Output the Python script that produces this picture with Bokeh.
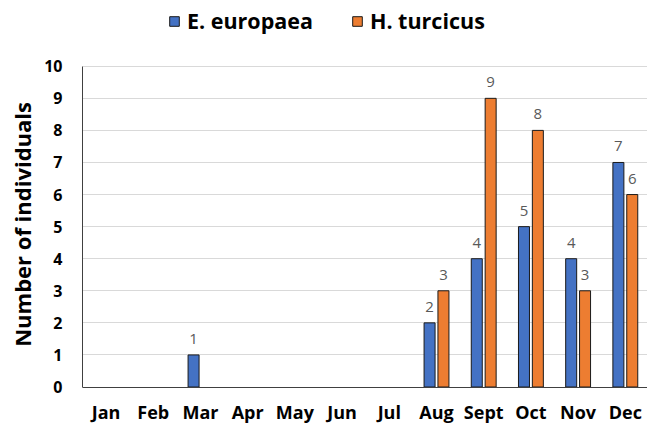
from bokeh.plotting import figure
from bokeh.models import (ColumnDataSource, Range1d, FixedTicker, Legend, LegendItem)
from bokeh.transform import dodge
from bokeh.core.properties import value
from bokeh.embed import file_html
from bokeh.resources import INLINE

months = ["Jan", "Feb", "Mar", "Apr", "May", "Jun", "Jul", "Aug", "Sept", "Oct", "Nov", "Dec"]
europaea = [0, 0, 1, 0, 0, 0, 0, 2, 4, 5, 4, 7]
turcicus = [0, 0, 0, 0, 0, 0, 0, 3, 9, 8, 3, 6]
y_ticks = list(range(0, 11))

BLUE = "#4472C4"
ORANGE = "#ED7D31"
FONT = "Open Sans"

xs = [i + 0.5 for i in range(len(months))]

def nonzero_source(vals):
    pts = [(x, v) for x, v in zip(xs, vals) if v > 0]
    return ColumnDataSource(dict(x=[a for a, _ in pts], y=[b for _, b in pts],
                                 t=[str(b) for _, b in pts]))

src_eu = nonzero_source(europaea)
src_tu = nonzero_source(turcicus)

p = figure(width=647, height=425, output_backend="svg", toolbar_location=None,
           x_range=Range1d(0, 11.97), y_range=Range1d(-1.2, 12.05),
           min_border_left=82, min_border_right=0, min_border_top=0,
           min_border_bottom=0)
p.outline_line_color = None
p.background_fill_color = "white"

off = 0.147
bw = 0.233
renderers = []
for s, o, col in ((src_eu, -off, BLUE), (src_tu, off, ORANGE)):
    r = p.vbar(x=dodge("x", o, range=p.x_range), top="y", width=bw, source=s,
               fill_color=col, line_color="#1a1a1a", line_width=1)
    renderers.append(r)
    p.text(x=dodge("x", o, range=p.x_range), y="y", text="t", source=s,
           text_font=value(FONT), text_font_size="15px", text_color="#595959",
           text_align="center", text_baseline="alphabetic", y_offset=-16)

p.xgrid.grid_line_color = None
p.ygrid.grid_line_color = "#d9d9d9"
p.ygrid.grid_line_width = 1
p.ygrid.ticker = FixedTicker(ticks=y_ticks)

p.xaxis.fixed_location = 0
p.xaxis.ticker = FixedTicker(ticks=xs)
p.xaxis.major_label_overrides = {x: m for x, m in zip(xs, months)}
p.xaxis.major_tick_line_color = None
p.xaxis.minor_tick_line_color = None
p.xaxis.major_tick_out = 0
p.xaxis.axis_line_color = "#404040"
p.xaxis.major_label_text_font = FONT
p.xaxis.major_label_text_font_style = "bold"
p.xaxis.major_label_text_font_size = "18px"
p.xaxis.major_label_text_color = "black"
p.xaxis.major_label_standoff = 13

p.yaxis.ticker = FixedTicker(ticks=y_ticks)
p.yaxis.bounds = (0, 10)
p.yaxis.major_tick_line_color = None
p.yaxis.minor_tick_line_color = None
p.yaxis.major_tick_out = 0
p.yaxis.axis_line_color = "#404040"
p.yaxis.major_label_text_font = FONT
p.yaxis.major_label_text_font_style = "bold"
p.yaxis.major_label_text_font_size = "16px"
p.yaxis.major_label_text_color = "black"
p.yaxis.major_label_standoff = 20
p.yaxis.axis_label = "Number of individuals" + "\u00a0" * 4
p.yaxis.axis_label_text_font = FONT
p.yaxis.axis_label_text_font_style = "bold"
p.yaxis.axis_label_text_font_size = "22px"
p.yaxis.axis_label_text_color = "black"
p.yaxis.axis_label_standoff = 4

legend = Legend(items=[LegendItem(label="E. europaea", renderers=[renderers[0]]),
                       LegendItem(label="H. turcicus", renderers=[renderers[1]])],
                location=(86, 390), orientation="horizontal",
                glyph_width=12, glyph_height=12, label_standoff=7, spacing=38,
                padding=0, margin=0, border_line_color=None,
                background_fill_alpha=0,
                label_text_font=FONT, label_text_font_style="bold",
                label_text_font_size="21.5px", label_text_color="black")
p.add_layout(legend, "center")

open("out.html", "w").write(file_html(p, INLINE))
